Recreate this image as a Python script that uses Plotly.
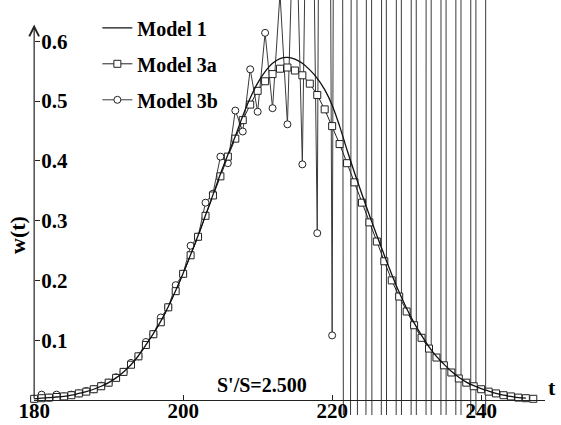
import plotly.graph_objects as go

# ---------------- data ----------------
t_model1 = list(range(180, 247))
w_model1 = [0.002, 0.003, 0.004, 0.005, 0.006, 0.008, 0.011, 0.014, 0.018, 0.023,
            0.029, 0.037, 0.047, 0.059, 0.074, 0.092, 0.111, 0.132, 0.156, 0.183,
            0.212, 0.243, 0.275, 0.309, 0.343, 0.378, 0.410, 0.441, 0.475, 0.505,
            0.530, 0.549, 0.563, 0.571, 0.573, 0.570, 0.563, 0.552, 0.538, 0.519,
            0.493, 0.458, 0.418, 0.380, 0.344, 0.309, 0.275, 0.242, 0.210, 0.180,
            0.153, 0.129, 0.108, 0.089, 0.073, 0.060, 0.048, 0.038, 0.030, 0.024,
            0.019, 0.015, 0.011, 0.008, 0.006, 0.004, 0.003]

t_model3a = list(range(180, 248))
w_model3a = [0.002, 0.003, 0.004, 0.005, 0.006, 0.008, 0.011, 0.014, 0.018, 0.023,
             0.029, 0.037, 0.047, 0.059, 0.073, 0.092, 0.110, 0.130, 0.155, 0.182,
             0.211, 0.242, 0.273, 0.308, 0.342, 0.374, 0.407, 0.437, 0.468, 0.494,
             0.517, 0.533, 0.545, 0.554, 0.556, 0.551, 0.543, 0.529, 0.510, 0.486,
             0.458, 0.428, 0.396, 0.364, 0.330, 0.297, 0.265, 0.232, 0.200, 0.173,
             0.148, 0.125, 0.104, 0.086, 0.071, 0.058, 0.046, 0.036, 0.029, 0.023,
             0.018, 0.014, 0.011, 0.008, 0.006, 0.004, 0.003, 0.002]

t_model3b = list(range(180, 242))
w_model3b = [0.002, 0.009, 0.004, 0.009, 0.006, 0.009, 0.011, 0.015, 0.018, 0.024,
             0.029, 0.038, 0.047, 0.062, 0.073, 0.097, 0.110, 0.138, 0.155, 0.192,
             0.211, 0.258, 0.273, 0.330, 0.345, 0.407, 0.396, 0.484, 0.449, 0.553,
             0.482, 0.614, 0.488, 0.680, 0.461, 0.900, 0.394, 1.300, 0.279, 3.0,
             0.108, 4.0, -4.0, 4.5, -7.0, 6.0, -12.0, 8.0, -19.0, 13.0,
             -30.0, 20.0, -47.0, 31.0, -73.0, 48.0, -114.0, 75.0, -178.0, 117.0,
             -277.0, 182.0]

x_tick_vals = [180, 200, 220, 240]
y_tick_vals = [0.1, 0.2, 0.3, 0.4, 0.5, 0.6]
ratio_label = "S'/S=2.500"

# ---------------- figure ----------------
FONT = "Liberation Serif"
fig = go.Figure()

fig.add_trace(go.Scatter(
    x=t_model3b, y=w_model3b, name="Model 3b", mode="lines+markers",
    line=dict(color="#3a3a3a", width=1),
    marker=dict(symbol="circle", size=7, color="white",
                line=dict(color="#222", width=1)),
    cliponaxis=False, legendrank=3, legendgroup="c"))

fig.add_trace(go.Scatter(
    x=t_model3a, y=w_model3a, name="Model 3a", mode="lines+markers",
    line=dict(color="#222", width=1),
    marker=dict(symbol="square", size=7, color="white",
                line=dict(color="#222", width=1)),
    cliponaxis=False, legendrank=2, legendgroup="b"))

fig.add_trace(go.Scatter(
    x=t_model1, y=w_model1, name="Model 1", mode="lines",
    line=dict(color="#111", width=1.3, shape="spline", smoothing=1.0),
    legendrank=1, legendgroup="a"))

W, H = 561, 425
ML, MR, MT, MB = 34, 16, 0, 10
px_per_t = 7.45
px_per_w = 598.0
y0_px = 400  # pixel row of w=0

plot_w = W - ML - MR
plot_h = H - MT - MB
x_min = 179.98
x_max = x_min + plot_w / px_per_t
y_min = (y0_px - (H - MB)) / px_per_w
y_max = (y0_px - MT) / px_per_w

fig.update_layout(
    width=W, height=H,
    margin=dict(l=ML, r=MR, t=MT, b=MB, autoexpand=False),
    paper_bgcolor="white", plot_bgcolor="white",
    font=dict(family=FONT, size=20, color="black", weight="bold"),
    showlegend=True,
    legend=dict(x=0.124, y=0.98, xanchor="left", yanchor="top",
                bgcolor="rgba(0,0,0,0)", tracegroupgap=7,
                font=dict(family=FONT, size=20, color="black", weight="bold"),
                traceorder="grouped"),
    xaxis=dict(range=[x_min, x_max], anchor="free",
               position=(H - MB - y0_px) / plot_h,
               showline=True, linecolor="#222", linewidth=1.3,
               showgrid=False, zeroline=False,
               ticks="inside", ticklen=5, tickcolor="#222", tickwidth=1.2,
               tickvals=x_tick_vals, ticktext=[str(v) for v in x_tick_vals],
               ticklabelstandoff=-8,
               tickfont=dict(family=FONT, size=21, color="black", weight="bold"),
               automargin=False),
    yaxis=dict(range=[y_min, y_max], showline=False,
               side="right", anchor="free", position=0,
               showgrid=False, zeroline=False,
               ticks="outside", ticklen=5, tickcolor="#222", tickwidth=1.2,
               tickvals=y_tick_vals, ticktext=[f"{v:.1f}" for v in y_tick_vals],
               ticklabelstandoff=-3,
               tickfont=dict(family=FONT, size=21, color="black", weight="bold"),
               automargin=False),
)

# y axis line with open arrow head
fig.add_annotation(x=180, y=0.628, ax=180, ay=0.0, xref="x", yref="y",
                   axref="x", ayref="y", text="", showarrow=True,
                   arrowhead=5, arrowsize=1.6, arrowwidth=1.2, arrowcolor="#222")

fig.add_annotation(x=210.6, y=0.025, xref="x", yref="y", text=ratio_label,
                   showarrow=False, xanchor="center", yanchor="middle",
                   font=dict(family=FONT, size=20, color="black", weight="bold"))
fig.add_annotation(x=(552 - ML) / plot_w, y=(H - MB - 387) / plot_h,
                   xref="paper", yref="paper", text="t", showarrow=False,
                   xanchor="center", yanchor="middle",
                   font=dict(family=FONT, size=22, color="black", weight="bold"))
fig.add_annotation(x=(18 - ML) / plot_w, y=(H - MB - 235) / plot_h,
                   xref="paper", yref="paper", text="w(t)", showarrow=False,
                   textangle=-90, xanchor="center", yanchor="middle",
                   font=dict(family=FONT, size=22, color="black", weight="bold"))

fig.write_html("out.html",
               config={"displayModeBar": False},
               post_script="document.body.style.margin='0';"
                           "document.body.style.overflow='hidden';")
